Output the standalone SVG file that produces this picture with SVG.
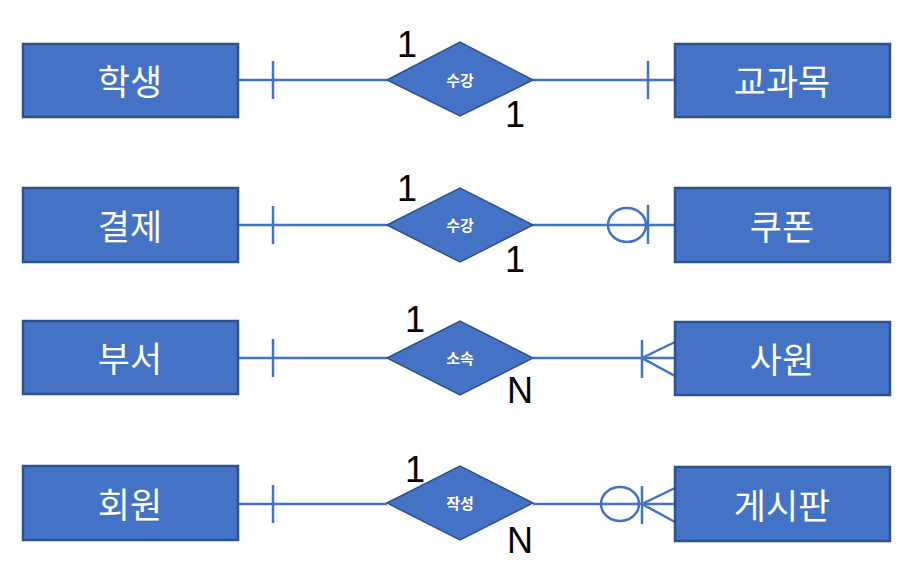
<svg xmlns="http://www.w3.org/2000/svg" width="922" height="567" viewBox="0 0 922 567">
<style>
.ent{fill:#4472C4;stroke:#2F528F;stroke-width:2.5}
.rel{fill:#4472C4;stroke:#2F528F;stroke-width:1.5}
.et{font-family:"Noto Sans CJK KR","Noto Sans",sans-serif;font-size:35px;fill:#fff;text-anchor:middle;dominant-baseline:central}
.rt{font-family:"Noto Sans CJK KR","Noto Sans",sans-serif;font-size:15px;font-weight:bold;fill:#fff;text-anchor:middle;dominant-baseline:central}
.ln{stroke:#4472C4;stroke-width:2.5;fill:none}
.card{font-family:"Liberation Sans",Arial,sans-serif;font-size:36px;fill:#000}
</style>
<rect width="922" height="567" fill="#fff"/>
<g id="connectors">
<line class="ln" x1="238" y1="80" x2="387" y2="80"/>
<line class="ln" x1="533" y1="80" x2="675" y2="80"/>
<line class="ln" x1="273" y1="61" x2="273" y2="99"/>
<line class="ln" x1="648" y1="61" x2="648" y2="99"/>
<line class="ln" x1="238" y1="225" x2="387" y2="225"/>
<line class="ln" x1="533" y1="225" x2="675" y2="225"/>
<line class="ln" x1="273" y1="206" x2="273" y2="244"/>
<ellipse class="ln" cx="627" cy="225" rx="19" ry="17"/>
<line class="ln" x1="648" y1="205" x2="648" y2="244"/>
<line class="ln" x1="238" y1="358" x2="387" y2="358"/>
<line class="ln" x1="533" y1="358" x2="675" y2="358"/>
<line class="ln" x1="273" y1="339" x2="273" y2="377"/>
<line class="ln" x1="642" y1="340" x2="642" y2="378"/>
<polyline class="ln" points="675,342 642,358 675,376"/>
<line class="ln" x1="238" y1="504" x2="387" y2="504"/>
<line class="ln" x1="533" y1="504" x2="675" y2="504"/>
<line class="ln" x1="273" y1="485" x2="273" y2="523"/>
<ellipse class="ln" cx="620" cy="504" rx="19" ry="17"/>
<line class="ln" x1="642" y1="486" x2="642" y2="524"/>
<polyline class="ln" points="675,488 642,504 675,522"/>
</g>
<g id="student"><rect class="ent" x="23" y="44" width="215" height="73"/><text class="et" x="130" y="79">학생</text></g>
<g id="course"><rect class="ent" x="675" y="44" width="215" height="73"/><text class="et" x="782" y="79">교과목</text></g>
<g id="rel1"><polygon class="rel" points="387,80 460,42 533,80 460,116"/><text class="rt" x="460" y="79">수강</text></g>
<g id="payment"><rect class="ent" x="23" y="188" width="215" height="74"/><text class="et" x="130" y="224">결제</text></g>
<g id="coupon"><rect class="ent" x="675" y="188" width="215" height="74"/><text class="et" x="782" y="224">쿠폰</text></g>
<g id="rel2"><polygon class="rel" points="387,225 460,188 533,225 460,262"/><text class="rt" x="460" y="224">수강</text></g>
<g id="dept"><rect class="ent" x="23" y="321" width="215" height="73"/><text class="et" x="130" y="356">부서</text></g>
<g id="employee"><rect class="ent" x="675" y="322" width="215" height="73"/><text class="et" x="782" y="357">사원</text></g>
<g id="rel3"><polygon class="rel" points="387,358 460,321 533,358 460,395"/><text class="rt" x="460" y="357">소속</text></g>
<g id="member"><rect class="ent" x="23" y="466" width="215" height="74"/><text class="et" x="130" y="502">회원</text></g>
<g id="board"><rect class="ent" x="675" y="467" width="215" height="74"/><text class="et" x="782" y="503">게시판</text></g>
<g id="rel4"><polygon class="rel" points="387,503 460,466 533,503 460,540"/><text class="rt" x="460" y="502">작성</text></g>
<g id="cards">
<text class="card" x="397" y="57">1</text>
<text class="card" x="505" y="127">1</text>
<text class="card" x="397" y="201">1</text>
<text class="card" x="505" y="272">1</text>
<text class="card" x="405" y="332">1</text>
<text class="card" x="507" y="403">N</text>
<text class="card" x="405" y="482">1</text>
<text class="card" x="507" y="553">N</text>
</g>
</svg>
